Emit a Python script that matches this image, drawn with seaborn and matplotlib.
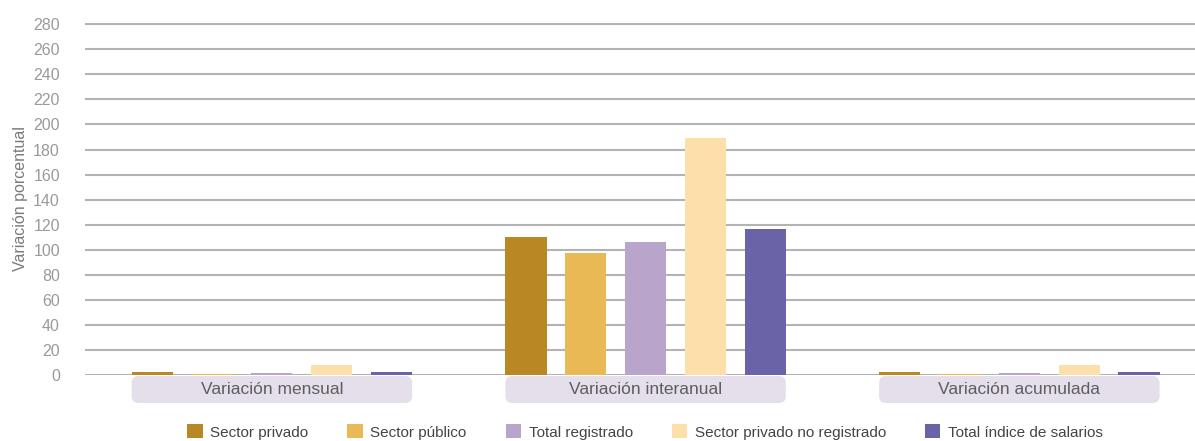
import matplotlib
matplotlib.use("Agg")
import matplotlib.pyplot as plt
import matplotlib.transforms as mtransforms
from matplotlib.patches import FancyBboxPatch
import pandas as pd
import seaborn as sns

# values
grupos = ['Variación mensual', 'Variación interanual', 'Variación acumulada']
series = ['Sector privado', 'Sector público', 'Total registrado',
          'Sector privado no registrado', 'Total índice de salarios']
privado = [2.2, 110.4, 2.2]
publico = [1.0, 97.0, 1.0]
registrado = [1.6, 106.0, 1.6]
no_registrado = [8.2, 188.8, 8.2]
total = [2.4, 116.4, 2.4]
colores = ['#b98825', '#e9b956', '#b9a5cc', '#fddfaa', '#6a63a8']
yticks = list(range(0, 281, 20))

rows = []
for serie, vals in zip(series, [privado, publico, registrado, no_registrado, total]):
    for g, v in zip(grupos, vals):
        rows.append({'grupo': g, 'serie': serie, 'valor': v})
df = pd.DataFrame(rows)

sns.set_style('white')
plt.rcParams['font.family'] = ['Liberation Sans', 'DejaVu Sans']

fig = plt.figure(figsize=(11.95, 4.41), dpi=100)
ax = fig.add_axes([85 / 1195, 66 / 441, 1 - 85 / 1195, (375 - 23) / 441])

sns.barplot(data=df, x='grupo', y='valor', hue='serie', order=grupos, hue_order=series,
            palette=colores, saturation=1, width=0.8, gap=0.31, ax=ax, linewidth=0,
            errorbar=None)

ax.set_ylim(0, 281)
ax.set_xlim(-0.5, 2.47)
ax.set_yticks(yticks)
ax.yaxis.grid(True, color='#b3b3b3', linewidth=1.5)
ax.set_axisbelow(True)
for s in ax.spines.values():
    s.set_visible(False)
ax.tick_params(axis='y', length=0, pad=18, labelsize=11.5, labelcolor='#9a9a9a')
ax.set_xticks([])
ax.set_xlabel('')
ax.set_ylabel('Variación porcentual', fontsize=11.5, color='#7a7a7a', labelpad=4)

# group label boxes under the axis
fig.canvas.draw()
half = 0.4 - 0.16 * 0.31 / 2
for i, g in enumerate(grupos):
    x0 = ax.transData.transform((i - half, 0))[0]
    x1 = ax.transData.transform((i + half, 0))[0]
    box = FancyBboxPatch((x0, 38), x1 - x0, 27,
                         boxstyle='round,pad=0,rounding_size=7',
                         facecolor='#e5dfeb', edgecolor='none',
                         transform=mtransforms.IdentityTransform(), clip_on=False)
    fig.patches.append(box)
    fig.text((x0 + x1) / 2 / 1195, 52 / 441, g, ha='center', va='center',
             fontsize=12.5, color='#5e5e5e')

handles, labels = ax.get_legend_handles_labels()
ax.get_legend().remove()
fig.legend(handles, labels, loc='center', bbox_to_anchor=(645 / 1195, 9 / 441),
           ncol=5, frameon=False, fontsize=11, handlelength=1.0, handleheight=1.0,
           handletextpad=0.5, columnspacing=2.55, labelcolor='#444444')

fig.savefig('out.png', dpi=100)
